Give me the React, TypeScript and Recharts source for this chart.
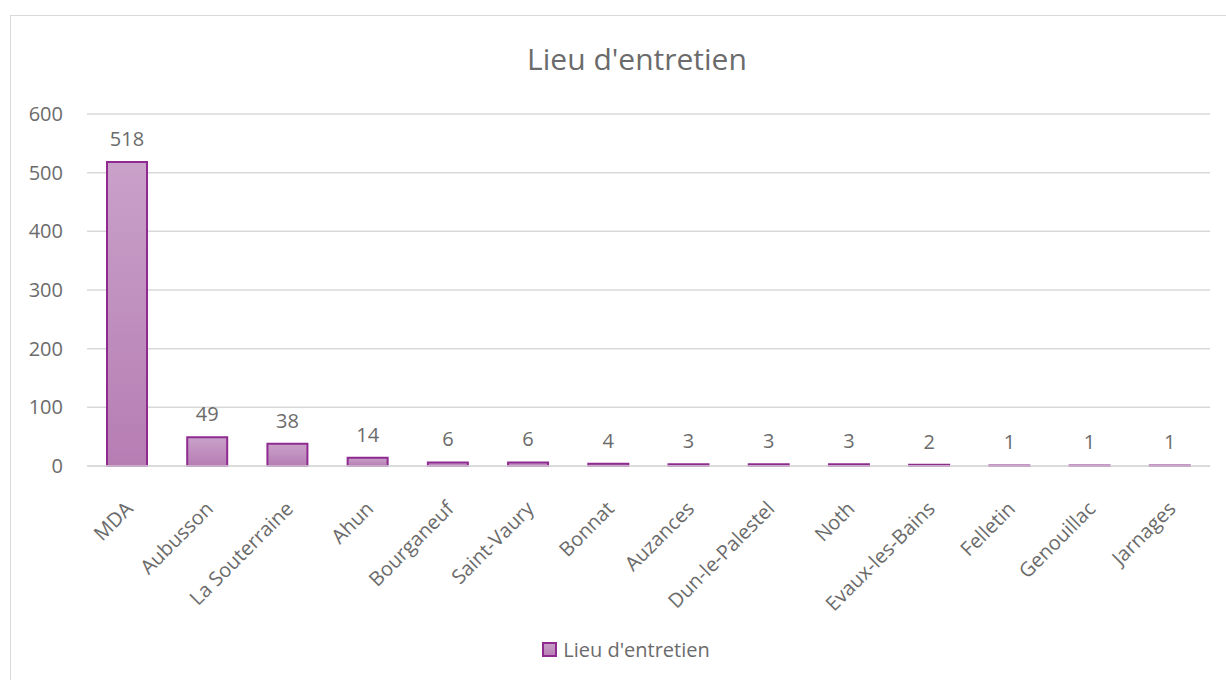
import {
    BarChart,
    Bar,
    XAxis,
    YAxis,
    CartesianGrid,
    Legend,
    LabelList,
} from "recharts";

const lieux = [
    "MDA",
    "Aubusson",
    "La Souterraine",
    "Ahun",
    "Bourganeuf",
    "Saint-Vaury",
    "Bonnat",
    "Auzances",
    "Dun-le-Palestel",
    "Noth",
    "Evaux-les-Bains",
    "Felletin",
    "Genouillac",
    "Jarnages",
];
const entretiens = [518, 49, 38, 14, 6, 6, 4, 3, 3, 3, 2, 1, 1, 1];
const yTicks = [0, 100, 200, 300, 400, 500, 600];

const seriesName = "Lieu d'entretien";
const data = lieux.map((name, i) => ({ name, value: entretiens[i] }));

const textColor = "#6b6b6b";
const font = "'Open Sans', sans-serif";
const barStroke = "#8f2a91";

const RotatedTick = ({ x, y, payload }: any) => {
    const tx = x + 7;
    const ty = y + 36;
    return (
        <text
            x={tx}
            y={ty}
            textAnchor="end"
            fill={textColor}
            fontSize={20}
            fontFamily={font}
            transform={`rotate(-45, ${tx}, ${ty})`}
        >
            {payload.value}
        </text>
    );
};

const LegendBox = () => (
    <div
        style={{
            display: "flex",
            alignItems: "center",
            justifyContent: "center",
            fontFamily: font,
            fontSize: 20,
            color: textColor,
            paddingLeft: 12,
        }}
    >
        <svg width={16} height={16} style={{ marginRight: 5 }}>
            <rect x={1} y={1} width={13} height={13} fill="url(#barFill)" stroke={barStroke} strokeWidth={2} />
        </svg>
        <span>{seriesName}</span>
    </div>
);

export default function App() {
    return (
        <div
            style={{
                position: "fixed",
                left: 0,
                top: 0,
                width: 1226,
                height: 680,
                overflow: "hidden",
                background: "#fff",
            }}
        >
            <div
                style={{
                    position: "absolute",
                    left: 10,
                    top: 15,
                    width: 1300,
                    height: 800,
                    border: "1px solid #d9d9d9",
                }}
            />
            <div
                style={{
                    position: "absolute",
                    left: 0,
                    top: 38,
                    width: 1274,
                    textAlign: "center",
                    fontFamily: font,
                    fontSize: 30,
                    color: textColor,
                }}
            >
                {seriesName}
            </div>
            <div style={{ position: "absolute", left: 0, top: 0 }}>
                <BarChart
                    width={1226}
                    height={680}
                    data={data}
                    margin={{ top: 114, right: 16, left: 0, bottom: 84 }}
                    barSize={40}
                >
                    <defs>
                        <linearGradient id="barFill" x1="0" y1="0" x2="0" y2="1">
                            <stop offset="0%" stopColor="#c9a1c9" />
                            <stop offset="100%" stopColor="#b67db3" />
                        </linearGradient>
                    </defs>
                    <CartesianGrid vertical={false} stroke="#d9d9d9" strokeWidth={1.5} />
                    <XAxis
                        dataKey="name"
                        interval={0}
                        height={130}
                        tickLine={false}
                        axisLine={{ stroke: "#d9d9d9", strokeWidth: 1.5 }}
                        tick={<RotatedTick />}
                    />
                    <YAxis
                        domain={[0, 600]}
                        ticks={yTicks}
                        width={87}
                        tickSize={0}
                        tickMargin={24}
                        axisLine={false}
                        tickLine={false}
                        tick={{ fill: textColor, fontSize: 20, fontFamily: font }}
                    />
                    <Legend
                        content={<LegendBox />}
                        wrapperStyle={{ height: 0, top: 636, bottom: "auto", left: 0, width: 1240 }}
                    />
                    <Bar
                        dataKey="value"
                        name={seriesName}
                        fill="url(#barFill)"
                        stroke={barStroke}
                        strokeWidth={2}
                        isAnimationActive={false}
                    >
                        <LabelList
                            dataKey="value"
                            position="top"
                            offset={16}
                            fill={textColor}
                            fontSize={20}
                            fontFamily={font}
                        />
                    </Bar>
                </BarChart>
            </div>
        </div>
    );
}
